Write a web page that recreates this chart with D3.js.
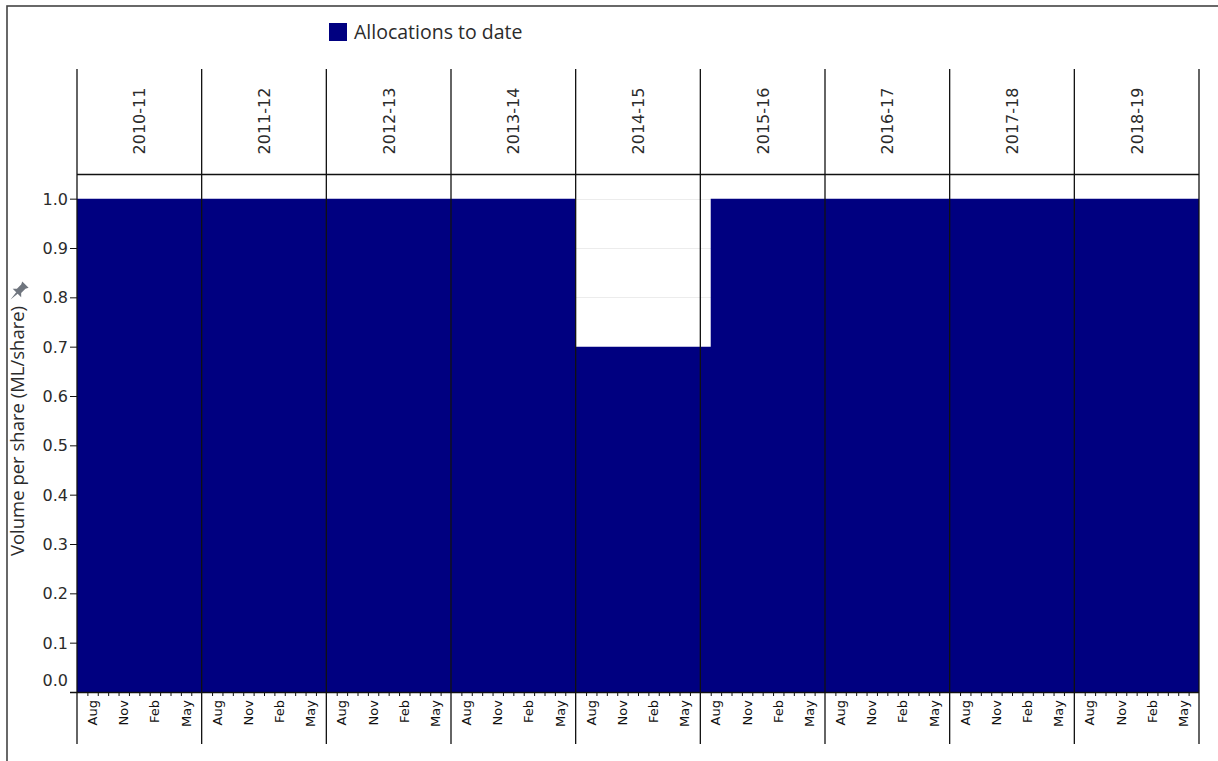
<!DOCTYPE html>
<html>
<head>
<meta charset="utf-8">
<script src="https://cdn.jsdelivr.net/npm/d3@7"></script>
<style>
  html, body { margin: 0; padding: 0; background: #fff; }
  svg { display: block; }
</style>
</head>
<body>
<svg id="chart" width="1218" height="761"></svg>
<script>
// ---- data ----
const years = ["2010-11","2011-12","2012-13","2013-14","2014-15","2015-16","2016-17","2017-18","2018-19"];
const monthsInYear = ["Jul","Aug","Sep","Oct","Nov","Dec","Jan","Feb","Mar","Apr","May","Jun"];
const monthTickLabels = ["Aug","Nov","Feb","May"];
const yTicks = [0.0,0.1,0.2,0.3,0.4,0.5,0.6,0.7,0.8,0.9,1.0];
const seriesName = "Allocations to date";
// monthly allocation (ML/share), Jul..Jun for each water year
const alloc2010 = [1,1,1,1,1,1,1,1,1,1,1,1];
const alloc2011 = [1,1,1,1,1,1,1,1,1,1,1,1];
const alloc2012 = [1,1,1,1,1,1,1,1,1,1,1,1];
const alloc2013 = [1,1,1,1,1,1,1,1,1,1,1,1];
const alloc2014 = [0.7,0.7,0.7,0.7,0.7,0.7,0.7,0.7,0.7,0.7,0.7,0.7];
const alloc2015 = [0.7,1,1,1,1,1,1,1,1,1,1,1];
const alloc2016 = [1,1,1,1,1,1,1,1,1,1,1,1];
const alloc2017 = [1,1,1,1,1,1,1,1,1,1,1,1];
const alloc2018 = [1,1,1,1,1,1,1,1,1,1,1,1];
const allocByYear = [alloc2010,alloc2011,alloc2012,alloc2013,alloc2014,alloc2015,alloc2016,alloc2017,alloc2018];

// ---- layout ----
const svg = d3.select("#chart");
const plotLeft = 77, plotRight = 1199;
const headTop = 69, plotTop = 174, plotBottom = 692, axisBottom = 744;
const barColor = "#000080";
const lineColor = "#111111";
const textColor = "#2b2b2b";

const xYear = d3.scaleBand().domain(years).range([plotLeft, plotRight]).paddingInner(0).paddingOuter(0);
const xMonth = d3.scaleLinear().domain([0, 12]).range([0, xYear.bandwidth()]);
const xAll = d3.scaleLinear().domain([0, years.length * 12]).range([plotLeft, plotRight]);
const y = d3.scaleLinear().domain([0, 1.05]).range([plotBottom, plotTop]);

// outer frame
svg.append("rect").attr("x", 7).attr("y", 6).attr("width", 1400).attr("height", 900)
  .attr("fill", "none").attr("stroke", "#444").attr("stroke-width", 1.6);

// gridlines
svg.append("g").selectAll("line").data(yTicks).join("line")
  .attr("x1", plotLeft).attr("x2", plotRight)
  .attr("y1", d => Math.round(y(d)) + 0.5).attr("y2", d => Math.round(y(d)) + 0.5)
  .attr("stroke", "#ececec").attr("stroke-width", 1);

// step area from monthly data
const monthData = [];
allocByYear.forEach((arr, yi) => arr.forEach((v, mi) => monthData.push({i: yi * 12 + mi, v})));
monthData.push({i: years.length * 12, v: monthData[monthData.length - 1].v});
const area = d3.area().curve(d3.curveStepAfter)
  .x(d => xAll(d.i)).y0(y(0)).y1(d => y(d.v));
svg.append("path").datum(monthData).attr("d", area).attr("fill", barColor);

// header horizontal line
svg.append("line").attr("x1", plotLeft).attr("x2", plotRight)
  .attr("y1", plotTop + 0.5).attr("y2", plotTop + 0.5)
  .attr("stroke", lineColor).attr("stroke-width", 1.3);

// column separators
const bounds = years.map(d => xYear(d)).concat([plotRight]);
svg.append("g").selectAll("line").data(bounds).join("line")
  .attr("x1", d => d).attr("x2", d => d)
  .attr("y1", headTop).attr("y2", axisBottom)
  .attr("stroke", lineColor).attr("stroke-width", 1.3);

// bottom axis line
svg.append("line").attr("x1", plotLeft - 7).attr("x2", plotRight)
  .attr("y1", plotBottom + 0.5).attr("y2", plotBottom + 0.5)
  .attr("stroke", lineColor).attr("stroke-width", 1.3);

// year labels
svg.append("g").selectAll("text").data(years).join("text")
  .attr("transform", d => `translate(${xYear(d) + xYear.bandwidth()/2 + 6},121) rotate(-90)`)
  .attr("text-anchor", "middle")
  .attr("font-family", "'DejaVu Sans', sans-serif").attr("font-size", 16)
  .attr("fill", textColor).text(d => d);

// month ticks and labels per year
years.forEach(yr => {
  const g = svg.append("g").attr("transform", `translate(${xYear(yr)},0)`);
  const ax = d3.axisBottom(xMonth).tickValues(d3.range(1, 12)).tickSize(4).tickFormat("");
  const ga = g.append("g").attr("transform", `translate(0,${plotBottom})`).call(ax);
  ga.select(".domain").remove();
  ga.selectAll("line").attr("stroke", lineColor);
  g.selectAll("text.m").data(monthTickLabels).join("text")
    .attr("class", "m")
    .attr("transform", d => `translate(${xMonth(monthsInYear.indexOf(d) + 0.5) + 4.5},700) rotate(-90)`)
    .attr("text-anchor", "end")
    .attr("font-family", "'DejaVu Sans', sans-serif").attr("font-size", 13)
    .attr("fill", "#111").text(d => d);
});

// y axis
const yAxis = d3.axisLeft(y).tickValues(yTicks).tickSize(7).tickPadding(2).tickFormat(d3.format(".1f"));
const gy = svg.append("g").attr("transform", `translate(${plotLeft},0)`).call(yAxis);
gy.select(".domain").remove();
gy.selectAll("line").attr("stroke", lineColor);
gy.selectAll("text").attr("font-family", "'DejaVu Sans', sans-serif").attr("font-size", 16)
  .attr("fill", textColor).attr("dy", "0.35em")
  .attr("y", d => d === 0 ? -12 : 0);

// y axis title + pin icon
svg.append("text")
  .attr("transform", `translate(24,431) rotate(-90)`)
  .attr("text-anchor", "middle")
  .attr("font-family", "'Open Sans', sans-serif").attr("font-size", 18.5)
  .attr("fill", textColor).text("Volume per share (ML/share)");
svg.append("path")
  .attr("transform", "translate(18,292) rotate(45) scale(1.5)")
  .attr("d", "M-3,-7 L3,-7 L2,-5 L2,-1 L4,1 L-4,1 L-2,-1 L-2,-5 Z M-0.7,1 L0.7,1 L0,7 Z")
  .attr("fill", "#6f757e");

// legend
svg.append("rect").attr("x", 329).attr("y", 23).attr("width", 18).attr("height", 18)
  .attr("fill", barColor);
svg.append("text").attr("x", 354).attr("y", 39)
  .attr("font-family", "'Open Sans', sans-serif").attr("font-size", 19.5)
  .attr("fill", textColor).text(seriesName);
</script>
</body>
</html>
